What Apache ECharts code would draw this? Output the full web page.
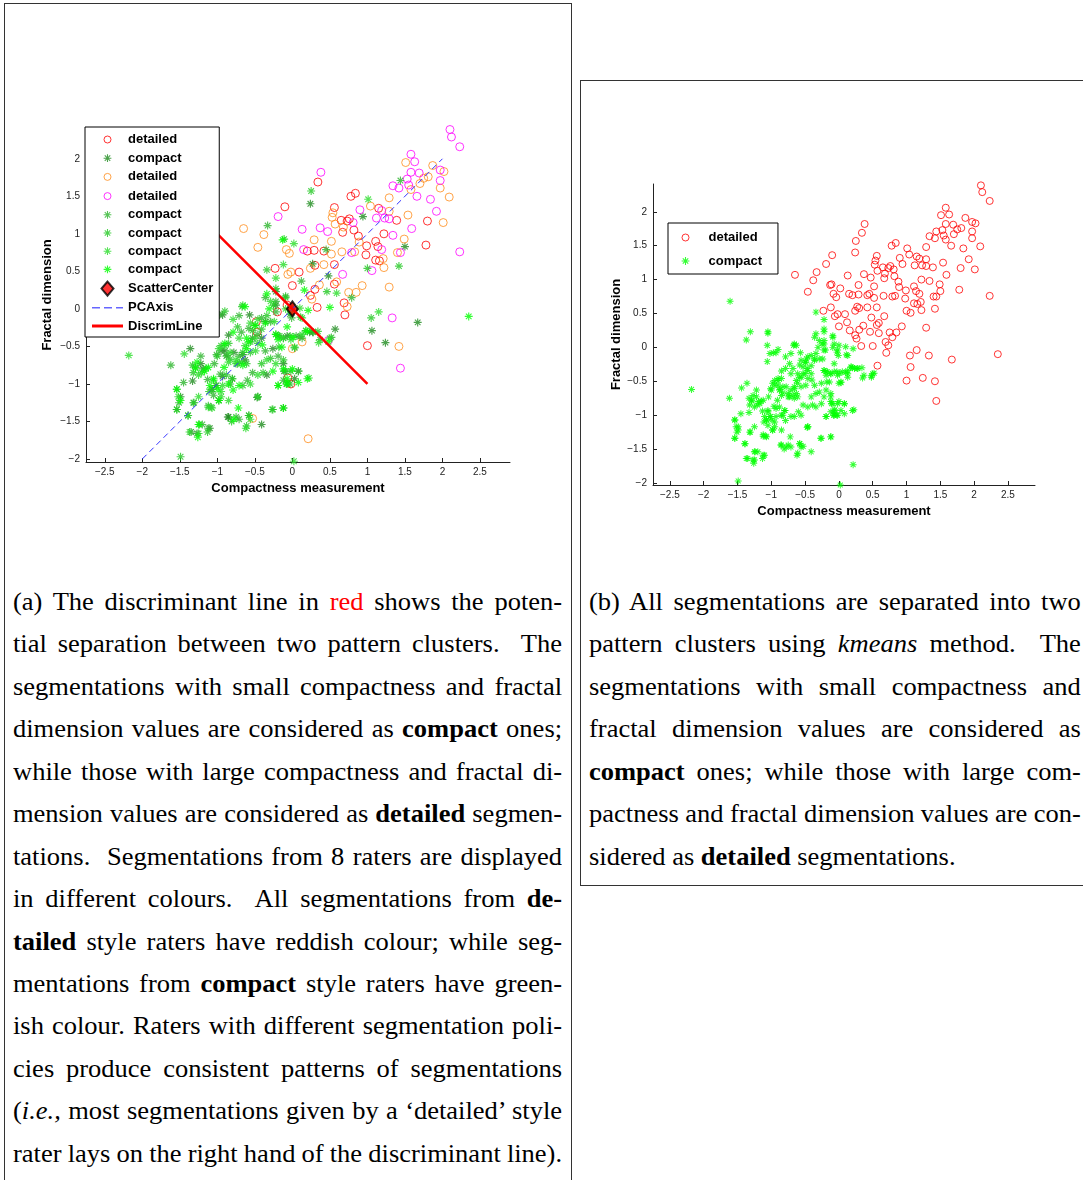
<!DOCTYPE html>
<html lang="en">
<head>
<meta charset="UTF-8">
<title>Compactness vs fractal dimension</title>
<script src="https://cdn.jsdelivr.net/npm/echarts@6/dist/echarts.min.js"></script>
<style>
    body{ margin:0; background:#fff; }
    .page{ position:relative; width:1083px; height:1180px; overflow:hidden; }
    .box{ position:absolute; border:1px solid #333; }
    #boxA{ left:4px; top:3px; width:566px; height:1200px; }
    #boxB{ left:580px; top:80px; width:520px; height:804px; }
    #chart{ position:absolute; left:0; top:0; width:1083px; height:560px; z-index:2; }
    /* the page scan is a little wider than tall, so the serif text is stretched sideways */
    .cap{ position:absolute; top:581px; font-family:'Liberation Serif','Times New Roman',serif; font-size:25px; color:#000;
          transform:scaleX(1.06); transform-origin:left top; word-spacing:-4px; }
    .cap div{ height:42.45px; line-height:42.45px; text-align:justify; text-align-last:justify; overflow:hidden; }
    .cap div.last{ text-align-last:left; word-spacing:0; }
    #capA{ left:13px; width:518px; }
    #capB{ left:589px; width:464px; }
    .red{ color:#ff0000; }
</style>
</head>
<body>
<div class="page">
    <div class="box" id="boxA"></div>
    <div class="box" id="boxB"></div>
    <div id="chart"></div>

    <div class="cap" id="capA">
        <div>(a) The discriminant line in <span class="red">red</span> shows the poten-</div>
        <div>tial separation between two pattern clusters.&nbsp; The</div>
        <div>segmentations with small compactness and fractal</div>
        <div>dimension values are considered as <b>compact</b> ones;</div>
        <div>while those with large compactness and fractal di-</div>
        <div>mension values are considered as <b>detailed</b> segmen-</div>
        <div>tations.&nbsp; Segmentations from 8 raters are displayed</div>
        <div>in different colours.&nbsp; All segmentations from <b>de-</b></div>
        <div><b>tailed</b> style raters have reddish colour; while seg-</div>
        <div>mentations from <b>compact</b> style raters have green-</div>
        <div>ish colour. Raters with different segmentation poli-</div>
        <div>cies produce consistent patterns of segmentations</div>
        <div>(<i>i.e.,</i> most segmentations given by a ‘detailed’ style</div>
        <div>rater lays on the right hand of the discriminant line).</div>
    </div>

    <div class="cap" id="capB">
        <div>(b) All segmentations are separated into two</div>
        <div>pattern clusters using <i>kmeans</i> method.&nbsp; The</div>
        <div>segmentations with small compactness and</div>
        <div>fractal dimension values are considered as</div>
        <div><b>compact</b> ones; while those with large com-</div>
        <div>pactness and fractal dimension values are con-</div>
        <div class="last">sidered as <b>detailed</b> segmentations.</div>
    </div>
</div>

<script>
// each point: [compactness, fractal dimension, kmeans cluster (1 = detailed, 0 = compact)]
var raterRed = [
    [1.80,1.17,1],[1.78,0.85,1],[1.39,1.18,1],[1.22,1.00,1],[1.15,1.34,1],[0.84,1.54,1],[0.78,1.50,1],
    [1.11,0.90,1],[1.14,0.83,1],[1.16,0.64,1],[1.11,0.65,1],[0.99,0.84,1],[0.88,0.97,1],[0.82,1.05,1],
    [0.73,1.17,1],[0.67,1.02,1],[0.65,1.18,1],[0.56,1.35,1],[0.98,0.72,1],[0.20,0.77,1],[0.29,0.78,1],
    [0.56,0.59,1],[0.30,0.58,1],[0.09,0.49,1],[-0.10,1.36,1],[0.34,1.69,1],[-0.23,0.54,1],[0.00,0.31,1],
    [0.30,0.26,1],[0.56,0.33,1],[0.24,0.18,1],[0.33,0.02,1],[0.69,0.08,1],[0.70,-0.08,1],[1.00,-0.49,1],
    [0.42,0.77,1],[0.76,1.20,1],
    [-0.48,-0.17,0],[-0.47,-0.31,0],[-0.20,-0.04,0],[-0.06,-0.92,0],[-0.02,-1.00,0],[-0.07,0.05,0]
];
var raterOrange = [
    [1.51,1.95,1],[1.87,1.91,1],[2.02,1.83,1],[1.75,1.74,1],[1.81,1.76,1],[1.70,1.67,1],[1.58,1.59,1],
    [1.97,1.61,1],[2.09,1.49,1],[2.01,1.15,1],[1.54,1.25,1],[1.49,0.93,1],[1.40,0.75,1],[1.29,1.30,1],
    [1.04,1.37,1],[1.29,1.48,1],[1.21,0.67,1],[1.22,0.55,1],[0.89,0.89,1],[0.68,1.09,1],[0.54,1.28,1],
    [0.53,1.22,1],[0.57,1.13,1],[0.52,0.90,1],[0.66,0.76,1],[0.83,0.76,1],[0.29,0.92,1],[0.42,0.59,1],
    [0.24,0.54,1],[-0.02,0.49,1],[-0.08,0.79,1],[-0.04,0.74,1],[-0.38,0.99,1],[-0.46,0.82,1],[-0.06,0.46,1],
    [0.36,0.32,1],[0.59,0.36,1],[0.75,0.22,1],[0.85,0.22,1],[0.93,0.31,1],[0.26,0.13,1],[0.73,0.03,1],
    [1.29,0.29,1],[1.42,-0.50,1],[-0.65,1.07,1],[0.52,0.73,1],
    [-0.53,-1.46,0],[0.00,-0.53,0],[0.21,-1.73,0],[0.13,-0.44,0]
];
var raterMagenta = [
    [2.10,2.39,1],[2.12,2.29,1],[2.23,2.16,1],[1.58,2.06,1],[1.63,1.96,1],[1.97,1.85,1],[1.58,1.82,1],
    [1.69,1.81,1],[1.53,1.73,1],[1.34,1.64,1],[1.42,1.61,1],[1.55,1.65,1],[1.97,1.71,1],[1.84,1.46,1],
    [1.66,1.50,1],[1.92,1.30,1],[1.59,1.07,1],[2.23,0.76,1],[1.44,0.75,1],[1.34,0.98,1],[1.29,1.20,1],
    [1.23,1.21,1],[1.19,1.31,1],[0.90,1.32,1],[1.12,1.21,1],[1.19,0.79,1],[1.06,0.51,1],[0.81,1.15,1],
    [0.37,1.08,1],[0.47,1.03,1],[0.79,0.75,1],[0.15,0.79,1],[-0.19,1.23,1],[0.38,1.82,1],[0.67,0.46,1],
    [1.33,-0.12,1],[1.44,-0.79,1],[0.13,1.06,1],
    [0.48,-0.42,0]
];
var raterDarkGreen = [
    [1.50,0.83,1],[0.94,1.23,1],[0.27,0.60,1],[0.24,1.40,1],[0.48,0.44,1],[0.57,-0.27,1],[1.67,-0.18,1],
    [1.06,-0.29,1],[1.24,-0.45,1],
    [-1.37,0.11,0],[-1.39,-1.42,0],[-1.36,-0.53,0],[-1.33,-0.96,0],[-1.35,-1.64,0],[-1.19,-0.80,0],
    [-1.07,-1.07,0],[-1.10,-1.59,0],[-0.93,-0.08,0],[-0.90,-0.56,0],[-0.93,-0.90,0],[-0.98,-1.22,0],
    [-0.86,-1.44,0],[-0.63,-0.68,0],[-0.85,-0.35,0],[-0.57,-0.08,0],[-0.36,-0.17,0],[-0.22,0.23,0],
    [-0.41,-0.39,0],[-0.66,-0.61,0],[-0.34,-0.88,0],[-0.47,-1.18,0],[-0.41,-1.54,0],[-0.12,-1.32,0],
    [0.03,-0.93,0],[-0.26,-0.53,0],[0.00,0.03,0],[-0.03,-0.07,0],[-0.07,-0.36,0],[0.23,-0.31,0],
    [-0.11,-0.83,0],[-1.61,0.68,0],[-0.22,0.05,0],
    [-1.22,-0.73,0],[-0.95,-0.56,0],[-0.78,-0.58,0],[-0.53,-0.39,0],[-0.12,-0.39,0],[0.27,-0.31,0],
    [-0.12,-0.73,0],[-1.49,-1.17,0],[-0.85,-1.44,0],[-0.46,-1.17,0],[-1.27,-1.66,0]
];
var raterGreen5 = [
    [1.44,1.71,1],[0.45,0.79,1],[-0.33,1.11,1],[0.12,0.37,1],[0.79,0.15,1],
    [-1.62,-0.75,0],[-1.54,-1.07,0],[-1.45,-0.98,0],[-1.31,-1.25,0],[-1.20,-1.54,0],[-1.22,-0.63,0],
    [-1.13,-0.94,0],[-1.08,-1.31,0],[-1.05,0.23,0],[-1.01,-0.61,0],[-0.87,-0.62,0],[-0.96,-0.87,0],
    [-1.05,-1.15,0],[-0.83,-1.00,0],[-0.75,-1.44,0],[-0.73,-0.73,0],[-0.68,-0.31,0],[-0.71,-0.09,0],
    [-0.58,-0.26,0],[-0.41,-0.12,0],[-0.36,0.15,0],[-0.56,-0.44,0],[-0.36,-0.56,0],[-0.53,-0.85,0],
    [-0.60,-0.95,0],[-0.58,-1.42,0],[-0.12,-0.95,0],[0.08,-0.83,0],[-0.19,-0.63,0],[-0.22,-0.34,0],
    [0.13,-0.39,0],[-0.01,-0.12,0],[-0.09,0.17,0],[-0.22,-0.04,0],[0.10,-0.37,0],[0.52,-0.38,0],
    [0.03,-0.52,0],[-0.03,-1.00,0],[-0.97,-0.08,0],[-0.22,0.10,0],
    [-1.29,-0.78,0],[-1.04,-0.73,0],[-0.88,-0.63,0],[-0.71,-0.63,0],[-0.46,-0.34,0],[-0.29,-0.17,0],
    [0.05,-0.36,0],[0.37,-0.41,0],[0.08,-0.83,0],[-1.02,-1.02,0],[-0.80,-0.93,0],[-1.51,-1.25,0],
    [-1.12,-1.29,0],[-0.71,-1.47,0],[-1.12,-1.59,0]
];
var raterGreen6 = [
    [1.00,0.54,1],[-0.11,0.93,1],[0.25,1.57,1],[0.46,0.23,1],[1.05,-0.12,1],[1.42,0.57,1],
    [-1.49,-1.97,0],[-1.54,-1.34,0],[-1.33,-0.75,0],[-1.24,-1.54,0],[-1.15,-0.79,0],[-1.11,-1.10,0],
    [-1.13,-1.64,0],[-1.06,-0.21,0],[-0.95,-0.49,0],[-0.83,-0.67,0],[-1.01,-1.02,0],[-0.80,-0.93,0],
    [-0.81,-1.50,0],[-0.68,-0.71,0],[-0.73,-0.24,0],[-0.67,0.03,0],[-0.53,-0.29,0],[-0.34,-0.09,0],
    [-0.25,0.05,0],[-0.46,-0.46,0],[-0.56,-0.58,0],[-0.39,-0.85,0],[-0.66,-1.02,0],[-0.26,-1.34,0],
    [-0.09,-0.83,0],[-0.12,-0.68,0],[-0.29,-0.66,0],[-0.03,-0.36,0],[0.28,-0.31,0],[-0.09,0.15,0],
    [0.11,-0.11,0],[-0.19,-0.36,0],[0.34,-0.30,0],[-0.18,-0.51,0],[-0.08,-1.00,0],[-0.34,0.52,0],
    [-0.90,-0.03,0],[-0.22,0.27,0],
    [-1.32,-0.85,0],[-1.00,-0.63,0],[-0.85,-0.46,0],[-0.61,-0.73,0],[-0.66,-0.58,0],[-0.41,-0.27,0],
    [-0.17,-0.36,0],[0.18,-0.29,0],[-0.41,-0.73,0],[-0.02,-0.83,0],[-1.07,-1.07,0],[-0.88,-0.88,0],
    [-1.54,-1.34,0],[-1.32,-1.25,0],[-0.58,-1.42,0],[-0.61,-1.56,0],[-0.27,-1.34,0]
];
var raterGreen7 = [
    [1.01,1.46,1],[0.02,0.87,1],[-0.12,0.59,1],[0.59,0.21,1],[1.15,-0.04,1],
    [-2.18,-0.62,0],[-1.52,-1.17,0],[-1.44,-0.60,0],[-1.25,-1.66,0],[-1.25,-1.17,0],[-1.21,-0.85,0],
    [-1.12,-1.31,0],[-1.06,0.03,0],[-0.98,-0.53,0],[-0.85,-0.71,0],[-1.05,-0.95,0],[-0.95,-1.17,0],
    [-0.85,-1.22,0],[-0.75,-0.68,0],[-0.71,-0.39,0],[-0.79,-0.14,0],[-0.56,-0.19,0],[-0.46,-0.14,0],
    [-0.29,0.10,0],[-0.50,-0.39,0],[-0.49,-0.56,0],[-0.46,-0.88,0],[-0.56,-1.00,0],[-0.62,-1.59,0],
    [-0.07,-0.98,0],[0.22,-0.92,0],[-0.12,-0.39,0],[0.03,-0.51,0],[0.13,-0.12,0],[0.02,-2.03,0],
    [0.10,0.01,0],[-0.24,-0.17,0],[0.18,-0.29,0],[0.35,-0.45,0],[-0.22,-0.73,0],[-0.22,0.41,0],
    [-0.66,0.05,0],[-0.09,0.00,0],
    [-1.25,-0.88,0],[-0.90,-0.49,0],[-0.83,-0.58,0],[-0.75,-0.73,0],[-0.63,-0.49,0],[-0.49,-0.22,0],
    [-0.02,-0.41,0],[0.13,-0.34,0],[0.50,-0.39,0],[-0.34,-0.68,0],[-0.19,-1.02,0],[-0.95,-1.10,0],
    [-0.93,-1.02,0],[-1.39,-1.42,0],[-1.07,-1.32,0],[-0.56,-1.47,0],[-1.37,-1.64,0],[-0.46,-1.17,0]
];
var raterGreen8 = [
    [-0.13,0.92,1],[0.16,0.25,1],[0.50,0.02,1],[2.35,-0.10,1],
    [-1.31,0.23,0],[-1.49,-1.22,0],[-1.29,-0.79,0],[-1.26,-1.71,0],[-1.27,-0.71,0],[-1.10,-1.02,0],
    [-1.02,-0.09,0],[-0.90,-0.46,0],[-0.91,-0.78,0],[-0.99,-1.07,0],[-0.79,-1.08,0],[-0.72,-1.32,0],
    [-0.66,-0.75,0],[-0.79,-0.31,0],[-0.63,0.03,0],[-0.50,-0.22,0],[-0.31,0.00,0],[-0.61,-0.39,0],
    [-0.40,-0.48,0],[-0.61,-0.53,0],[-0.26,-0.83,0],[-0.71,-1.02,0],[-0.19,-1.02,0],[0.00,-0.80,0],
    [-0.14,-0.51,0],[-0.19,-0.41,0],[0.20,-0.30,0],[-0.07,-0.24,0],[0.21,-0.02,0],[0.01,-0.38,0],
    [0.48,-0.44,0],[-0.07,-0.93,0],[-1.05,0.21,0],[-0.34,0.20,0],[-0.02,-0.04,0],
    [-1.17,-0.83,0],[-1.12,-0.78,0],[-0.58,-0.44,0],[-0.36,-0.19,0],[-0.22,-0.34,0],[-0.12,-0.80,0],
    [0.08,-0.98,0],[0.20,-0.93,0],[-0.07,-1.00,0],[-1.05,-0.93,0],[-0.85,-1.00,0],[-1.54,-1.07,0],
    [-0.98,-1.22,0],[-0.78,-1.47,0],[-0.12,-1.32,0],[-1.25,-1.54,0]
];

var scatterCenter = [[0, 0]];
var pcAxis = [[-2, -2], [2, 2]];
var discrimLine = [[-2, 2], [1, -1]];

var xTicks = [-2.5, -2, -1.5, -1, -0.5, 0, 0.5, 1, 1.5, 2, 2.5];
var yTicks = [-2, -1.5, -1, -0.5, 0, 0.5, 1, 1.5, 2];

// rater name (legend), marker, colour
var raters = [
    ['detailed#1', 'o', '#ff0000', raterRed],
    ['compact#2', '*', '#1f8c1f', raterDarkGreen],
    ['detailed#3', 'o', '#ff8c1a', raterOrange],
    ['detailed#4', 'o', '#ff00ff', raterMagenta],
    ['compact#5', '*', '#2db52d', raterGreen5],
    ['compact#6', '*', '#22c822', raterGreen6],
    ['compact#7', '*', '#2bdd2b', raterGreen7],
    ['compact#8', '*', '#00ff00', raterGreen8]
];

var STAR = 'M0 4.3L10 4.3L10 5.7L0 5.7Z M4.3 0L5.7 0L5.7 10L4.3 10Z M2 1L9 8L8 9L1 2Z M8 1L9 2L2 9L1 8Z';
var starSymbol = 'path://' + STAR;
var starIcon = 'path://M-4 -4M14 14' + STAR;
var ringIcon = 'path://M-1 -1M15 15M11 7A4 4 0 1 1 3 7A4 4 0 1 1 11 7Z';
var diamond = 'path://M6 0L12 7L6 14L0 7Z';
var dashIcon = 'path://M0 0M31 14M0 6.25L8 6.25L8 7.75L0 7.75Z M12 6.25L20 6.25L20 7.75L12 7.75Z M24 6.25L31 6.25L31 7.75L24 7.75Z';
var solidIcon = 'path://M0 0M31 14M0 5.5L31 5.5L31 8.5L0 8.5Z';

var font = "'Liberation Sans', Arial, Helvetica, sans-serif";
var minus = function (v) { return String(v).replace('-', '\u2212'); };

function makeAxis(type, grid, min, max, ticks, name, gap) {
    return {
        type: 'value', gridIndex: grid, min: min, max: max,
        name: name, nameLocation: 'middle', nameGap: gap,
        nameTextStyle: { fontFamily: font, fontWeight: 'bold', fontSize: 13, color: '#000' },
        axisLine: { onZero: false, lineStyle: { color: '#222', width: 1 } },
        axisTick: { inside: true, length: 4, customValues: ticks, lineStyle: { color: '#222' } },
        axisLabel: { customValues: ticks, formatter: minus, margin: type === 'x' ? 5 : 6,
                     fontFamily: font, fontSize: 10, color: '#222' },
        splitLine: { show: false }
    };
}

var series = [];
var legendA = [];
raters.forEach(function (r) {
    var pts = r[3].map(function (p) { return [p[0], p[1]]; });
    if (r[1] === 'o') {
        series.push({ name: r[0], type: 'scatter', xAxisIndex: 0, yAxisIndex: 0, data: pts,
            symbol: 'circle', symbolSize: 8,
            itemStyle: { color: 'rgba(0,0,0,0)', borderColor: r[2], borderWidth: 1 } });
        legendA.push({ name: r[0], icon: ringIcon,
            itemStyle: { color: 'rgba(0,0,0,0)', borderColor: r[2], borderWidth: 1 } });
    } else {
        series.push({ name: r[0], type: 'scatter', xAxisIndex: 0, yAxisIndex: 0, data: pts,
            symbol: starSymbol, symbolSize: 8, itemStyle: { color: r[2] } });
        legendA.push({ name: r[0], icon: starIcon, itemStyle: { color: r[2], borderWidth: 0 } });
    }
});

series.push({ name: 'PCAxis', type: 'line', xAxisIndex: 0, yAxisIndex: 0, data: pcAxis,
    symbol: 'none', itemStyle: { color: '#3333ff' }, lineStyle: { color: '#3333ff', width: 1, type: [6, 4] } });
series.push({ name: 'DiscrimLine', type: 'line', xAxisIndex: 0, yAxisIndex: 0, data: discrimLine,
    symbol: 'none', itemStyle: { color: '#ff0000' }, lineStyle: { color: '#ff0000', width: 2.5 } });
series.push({ name: 'ScatterCenter', type: 'scatter', xAxisIndex: 0, yAxisIndex: 0, data: scatterCenter,
    symbol: diamond, symbolSize: [11, 15],
    itemStyle: { color: '#ff0000', borderColor: '#000', borderWidth: 2 } });
legendA.push({ name: 'ScatterCenter', icon: diamond,
    itemStyle: { color: '#ff0000', borderColor: '#000', borderWidth: 2 } });
legendA.push({ name: 'PCAxis', icon: dashIcon, itemStyle: { color: '#6666ff', borderWidth: 0 } });
legendA.push({ name: 'DiscrimLine', icon: solidIcon, itemStyle: { color: '#ff0000', borderWidth: 0 } });

// panel (b): same points, coloured by kmeans cluster
var all = [];
raters.forEach(function (r) { all = all.concat(r[3]); });
var detailedB = all.filter(function (p) { return p[2] === 1; }).map(function (p) { return [p[0], p[1]]; });
var compactB = all.filter(function (p) { return p[2] === 0; }).map(function (p) { return [p[0], p[1]]; });

series.push({ name: 'detailed', type: 'scatter', xAxisIndex: 1, yAxisIndex: 1, data: detailedB,
    symbol: 'circle', symbolSize: 7,
    itemStyle: { color: 'rgba(0,0,0,0)', borderColor: '#ff0000', borderWidth: 1 } });
series.push({ name: 'compact', type: 'scatter', xAxisIndex: 1, yAxisIndex: 1, data: compactB,
    symbol: starSymbol, symbolSize: 7, itemStyle: { color: '#00ff00' } });

var legendText = { fontFamily: font, fontWeight: 'bold', fontSize: 13, color: '#000' };

var chart = echarts.init(document.getElementById('chart'));
chart.setOption({
    animation: false,
    backgroundColor: 'transparent',
    grid: [
        { left: 86, top: 128, width: 424, height: 334 },
        { left: 653, top: 184, width: 382, height: 301 }
    ],
    xAxis: [
        makeAxis('x', 0, -2.75, 2.9, xTicks, 'Compactness measurement', 17),
        makeAxis('x', 1, -2.75, 2.9, xTicks, 'Compactness measurement', 19)
    ],
    yAxis: [
        makeAxis('y', 0, -2.04, 2.41, yTicks, 'Fractal dimension', 32),
        makeAxis('y', 1, -2.03, 2.41, yTicks, 'Fractal dimension', 30)
    ],
    legend: [
        {
            orient: 'vertical', left: 85, top: 127, selectedMode: false,
            padding: [5, 6, 4, 7], itemWidth: 31, itemHeight: 14, itemGap: 4.2,
            backgroundColor: '#fff', borderColor: '#000', borderWidth: 1,
            textStyle: legendText,
            formatter: function (n) { return n.split('#')[0]; },
            data: legendA
        },
        {
            orient: 'vertical', left: 668, top: 223, selectedMode: false,
            padding: [7, 16, 6, 10], itemWidth: 36, itemHeight: 14, itemGap: 9,
            backgroundColor: '#fff', borderColor: '#000', borderWidth: 1,
            textStyle: legendText,
            data: [
                { name: 'detailed', icon: ringIcon,
                  itemStyle: { color: 'rgba(0,0,0,0)', borderColor: '#ff0000', borderWidth: 1 } },
                { name: 'compact', icon: starIcon, itemStyle: { color: '#00ff00', borderWidth: 0 } }
            ]
        }
    ],
    series: series
});
</script>
</body>
</html>
